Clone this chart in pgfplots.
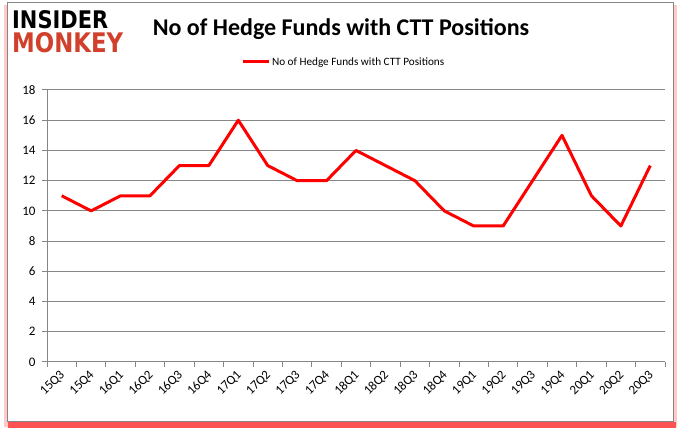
\documentclass[border=0pt]{standalone}
\usepackage{pgfplots}
\pgfplotsset{compat=1.18}
\usepackage{fontspec}
\setmainfont{Carlito}
\newfontfamily\logofont{DejaVu Sans}
\definecolor{gridgray}{RGB}{134,134,134}
\definecolor{monkeyred}{RGB}{208,64,43}
\definecolor{shadowred}{RGB}{255,40,40}
\begin{document}
\begin{tikzpicture}[x=1pt,y=1pt]
\path[use as bounding box] (0,0) rectangle (680,433);
% shadow and frame
\fill[shadowred!25] (4,6) rectangle (677,428);
\fill[shadowred!80] (8,5) rectangle (676,11);
\draw[gridgray, line width=1pt, fill=white] (7,11) rectangle (673,430);
% logo
\node[anchor=north west, inner sep=0pt] at (12,423) {\resizebox{96pt}{18pt}{\logofont\bfseries INSIDER}};
\node[anchor=north west, inner sep=0pt, text=monkeyred] at (12,401) {\resizebox{111pt}{20pt}{\logofont\bfseries MONKEY}};
% title
\node[anchor=base, inner sep=0pt] at (341,397) {\fontsize{24}{28}\selectfont\bfseries No of Hedge Funds with CTT Positions};
\begin{axis}[
  at={(47pt,71pt)}, anchor=south west,
  width=618pt, height=272pt, scale only axis,
  xmin=-0.5, xmax=20.5, ymin=0, ymax=18,
  ytick={0,2,...,18},
  xtick={0,...,20},
  xticklabels={15Q3,15Q4,16Q1,16Q2,16Q3,16Q4,17Q1,17Q2,17Q3,17Q4,18Q1,18Q2,18Q3,18Q4,19Q1,19Q2,19Q3,19Q4,20Q1,20Q2,20Q3},
  minor xtick={-0.5,0.5,...,20.5},
  every major x tick/.append style={draw=none},
  axis x line*=bottom, axis y line*=left,
  axis line style={gridgray, line width=1pt, -},
  ymajorgrids, grid style={gridgray, line width=1pt},
  major tick length=5pt, minor tick length=5pt,
  tick align=outside,
  tick style={gridgray, line width=1pt},
  /pgf/number format/assume math mode=true,
  yticklabel style={font=\fontsize{13}{15}\selectfont, text=black, xshift=-3pt},
  xticklabel style={rotate=45, anchor=east, font=\fontsize{13}{15}\selectfont, text=black, yshift=-5pt},
  legend style={at={(0.48,1)}, anchor=center, yshift=28pt, draw=none, fill=none,
    font=\fontsize{11.2}{13}\selectfont, inner sep=0pt},
  legend image code/.code={\draw[#1] (0pt,0pt) -- (26pt,0pt);},
]
\addplot[red, line width=3pt, line join=round, mark=none] coordinates {
(0,11) (1,10) (2,11) (3,11) (4,13) (5,13) (6,16) (7,13) (8,12) (9,12)
(10,14) (11,13) (12,12) (13,10) (14,9) (15,9) (16,12) (17,15) (18,11) (19,9) (20,13)
};
\addlegendentry{No of Hedge Funds with CTT Positions}
\end{axis}
\end{tikzpicture}
\end{document}
